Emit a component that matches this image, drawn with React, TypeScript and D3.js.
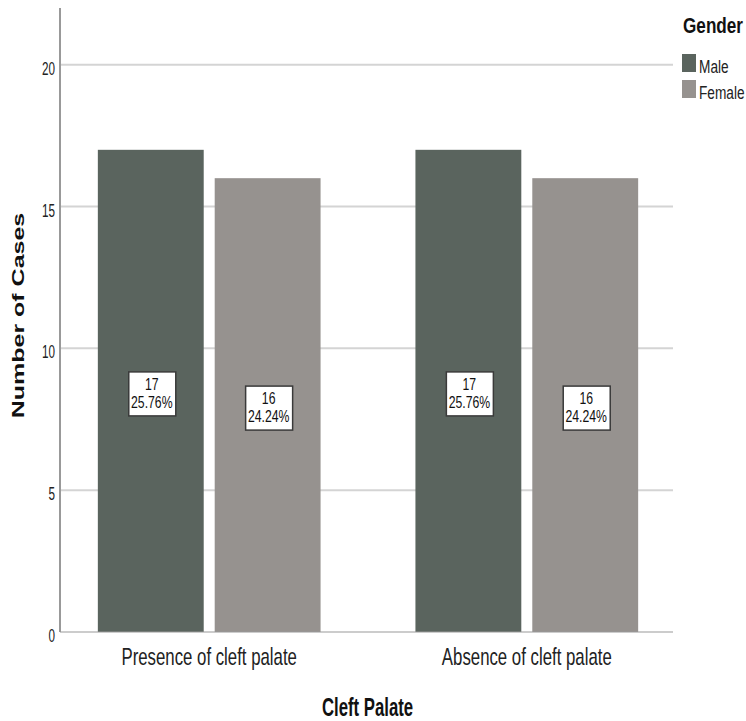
import React from "react";
import * as d3 from "d3";

const categories = ["Presence of cleft palate", "Absence of cleft palate"];
const genders = ["Male", "Female"];
const maleCounts = [17, 17];
const femaleCounts = [16, 16];
const malePct = ["25.76%", "25.76%"];
const femalePct = ["24.24%", "24.24%"];
const yTicks = [0, 5, 10, 15, 20];
const colors = ["#5a645e", "#96928f"];

const FONT = "'Liberation Sans', Arial, sans-serif";

function T(props: { x: number; y: number; sx: number; size: number; anchor?: string; bold?: boolean; fill?: string; children: React.ReactNode }) {
  const { x, y, sx, size, anchor = "start", bold, fill = "#222", children } = props;
  return (
    <text transform={`translate(${x},${y}) scale(${sx},1)`} textAnchor={anchor} fontFamily={FONT} fontSize={size} fontWeight={bold ? "bold" : "normal"} fill={fill}>
      {children}
    </text>
  );
}

export default function App() {
  const W = 746, H = 721;
  const left = 60, right = 673, top = 8, bottom = 632;
  const y = d3.scaleLinear().domain([0, 22]).range([bottom, top]);
  const x0 = d3.scaleBand<string>().domain(categories).range([left + 1, right + 2]).paddingInner(0.2987).paddingOuter(0.116);
  const x1 = d3.scaleBand<string>().domain(genders).range([0, x0.bandwidth()]).paddingInner(0.094);
  const series = [
    { g: "Male", vals: maleCounts, pct: malePct },
    { g: "Female", vals: femaleCounts, pct: femalePct },
  ];
  return (
    <div style={{ position: "absolute", left: 0, top: 0, width: W, height: H, overflow: "hidden" }}>
      <svg width={W} height={H} style={{ display: "block", background: "#fff" }}>
        {yTicks.filter(t => t > 0).map(t => (
          <line key={t} x1={left} x2={right} y1={y(t)} y2={y(t)} stroke="#d4d4d4" strokeWidth={2} />
        ))}
        {yTicks.map(t => (
          <T key={t} x={55} y={y(t) + 10} sx={0.65} size={18} anchor="end">{t}</T>
        ))}
        {series.map((s, si) =>
          categories.map((c, ci) => {
            const bx = (x0(c) as number) + (x1(s.g) as number);
            const bw = x1.bandwidth();
            const v = s.vals[ci];
            const mid = (y(v) + y(0)) / 2;
            const cx = bx + bw / 2 + 1;
            return (
              <g key={s.g + c}>
                <rect x={bx} y={y(v)} width={bw} height={y(0) - y(v)} fill={colors[si]} />
                <rect x={cx - 23} y={mid - 19} width={47} height={44} fill="#fff" stroke="#3a3a3a" strokeWidth={1.5} />
                <T x={cx} y={mid - 1} sx={0.72} size={17} anchor="middle" fill="#111">{v}</T>
                <T x={cx} y={mid + 17} sx={0.72} size={17} anchor="middle" fill="#111">{s.pct[ci]}</T>
              </g>
            );
          })
        )}
        <line x1={left} x2={left} y1={top} y2={bottom} stroke="#999" strokeWidth={2} />
        <line x1={left} x2={right} y1={bottom} y2={bottom} stroke="#999" strokeWidth={1} />
        {categories.map(c => (
          <T key={c} x={(x0(c) as number) + x0.bandwidth() / 2} y={665} sx={0.7} size={24} anchor="middle">{c}</T>
        ))}
        <T x={367.5} y={716} sx={0.67} size={25} anchor="middle" bold fill="#111">Cleft Palate</T>
        <text transform={`translate(24, 315.5) rotate(-90) scale(1,0.68)`} textAnchor="middle" fontFamily={FONT} fontSize={25} fontWeight="bold" fill="#111">Number of Cases</text>
        <T x={683} y={33} sx={0.78} size={22} bold fill="#111">Gender</T>
        {genders.map((g, i) => (
          <g key={g}>
            <rect x={682} y={54 + i * 26} width={14} height={18} fill={colors[i]} />
            <T x={699} y={73 + i * 26} sx={0.74} size={18.5}>{g}</T>
          </g>
        ))}
      </svg>
    </div>
  );
}
